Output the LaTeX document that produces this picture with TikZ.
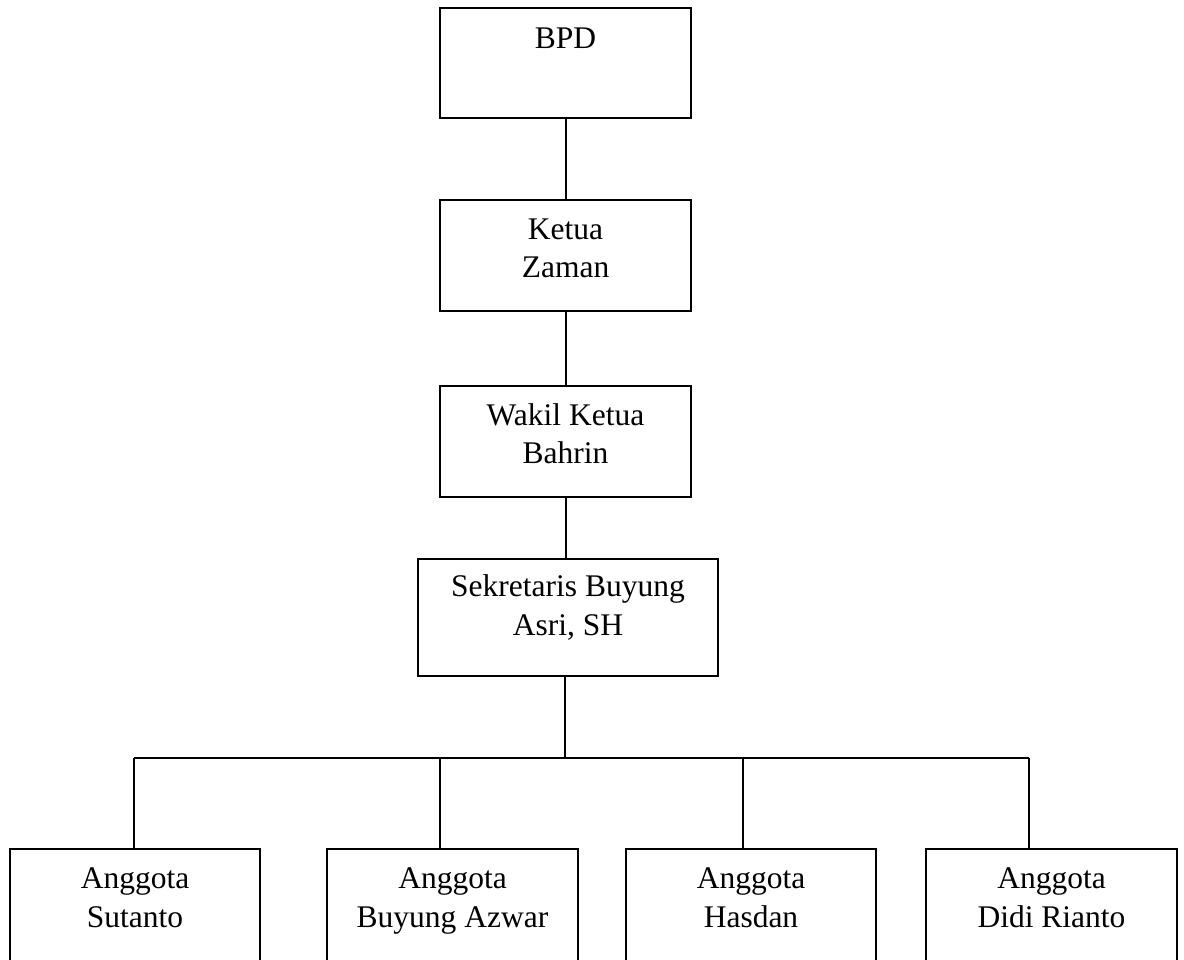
\documentclass[tikz,border=0pt]{standalone}
\usepackage{fontspec}
\setmainfont{Liberation Serif}
\begin{document}
\begin{tikzpicture}[x=1pt,y=-1pt,
  box/.style={draw, line width=1.4pt, inner sep=0pt, minimum width=251pt, minimum height=111pt},
  lbl/.style={font=\fontsize{31.5}{38.5}\selectfont, align=center, inner sep=0pt, anchor=north},
  conn/.style={line width=2pt}]
\useasboundingbox (0,0) rectangle (1184,959);
\clip (0,0) rectangle (1184,959);
% boxes
\node[box, minimum height=110pt] (bpd) at (565.5,63) {};
\node[box] (ketua) at (565.5,255.5) {};
\node[box] (wakil) at (565.5,441.5) {};
\node[box, minimum width=300pt, minimum height=117pt] (sek) at (568,617.5) {};
\node[box, minimum width=250pt, minimum height=150pt] (b1) at (135,924) {};
\node[box, minimum width=251pt, minimum height=150pt] (b2) at (452.5,924) {};
\node[box, minimum width=250pt, minimum height=150pt] (b3) at (751,924) {};
\node[box, minimum width=251pt, minimum height=150pt] (b4) at (1051.5,924) {};
% labels
\node[lbl] (bpdT) at (565.5,21.35) {\strut BPD};
\node[lbl] (ketuaT) at (565.5,212.05) {\strut Ketua\\\strut Zaman};
\node[lbl] (wakilT) at (565.5,398.05) {\strut Wakil Ketua\\\strut Bahrin};
\node[lbl] (sekT) at (568,569.75) {\strut Sekretaris Buyung\\\strut Asri, SH};
\node[lbl] (b1T) at (135,861.35) {\strut Anggota\\\strut Sutanto};
\node[lbl] (b2T) at (452.5,861.35) {\strut Anggota\\\strut Buyung Azwar};
\node[lbl] (b3T) at (751,861.35) {\strut Anggota\\\strut Hasdan};
\node[lbl] (b4T) at (1051.5,861.35) {\strut Anggota\\\strut Didi Rianto};
% connectors
\draw[conn] (bpd.south) -- (ketua.north);
\draw[conn] (ketua.south) -- (wakil.north);
\draw[conn] (wakil.south) -- (wakil.south |- sek.north);
\coordinate (d1) at (133.7,757.5);
\coordinate (d2) at (440.3,757.5);
\coordinate (d3) at (743.3,757.5);
\coordinate (d4) at (1029,757.5);
\coordinate (ds) at (565,757.5);
\draw[conn] (ds |- sek.south) -- (ds);
\draw[conn] (d1) -- (d4);
\draw[conn] (d1) -- (d1 |- b1.north);
\draw[conn] (d2) -- (d2 |- b2.north);
\draw[conn] (d3) -- (d3 |- b3.north);
\draw[conn] (d4) -- (d4 |- b4.north);
\end{tikzpicture}
\end{document}
